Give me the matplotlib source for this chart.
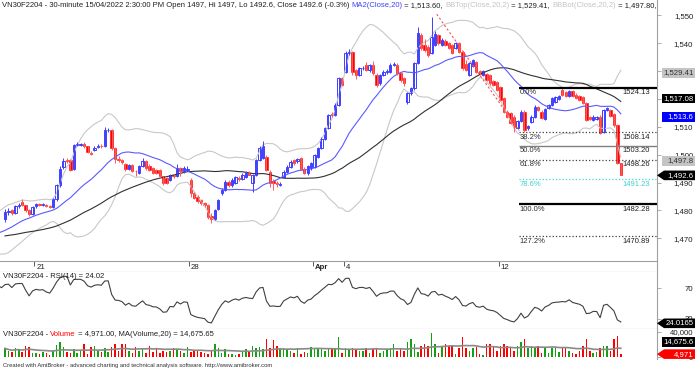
import matplotlib
matplotlib.use("Agg")
import matplotlib.pyplot as plt
from matplotlib.patches import Polygon
import numpy as np
import pandas as pd

plt.rcParams['font.family'] = ['Liberation Sans', 'DejaVu Sans']

# closes before the first visible bar, they only feed MA / BB / RSI
hist_close = [1470, 1471.5, 1472, 1470.5, 1469, 1468, 1469.5, 1471, 1472.5, 1471,
              1470, 1468.5, 1467, 1468, 1469.5, 1470, 1471, 1470.5, 1469, 1468,
              1467.5, 1468.5, 1470, 1471.5, 1470, 1469, 1468, 1467, 1468.5, 1469.5,
              1467.5, 1466.5, 1466, 1467, 1468.5, 1469, 1470.5, 1471, 1472, 1473.5,
              1474, 1475, 1474.5, 1476, 1477, 1476.5, 1477.5, 1478, 1477.5]

# 30-minute bars, 9 per session, 18/03 .. 15/04/2022
opens = [1477, 1479.5, 1480, 1479, 1481.5, 1483, 1481.8, 1480.2, 1478.6,
         1481.5, 1482.2, 1482, 1482, 1481.6, 1481.3, 1484, 1489, 1495.5,
         1498.2, 1498, 1495, 1503.5, 1503.6, 1503.8, 1503, 1500.8, 1501.8,
         1502.8, 1503.2, 1503, 1508.8, 1509, 1502.3, 1498.5, 1498, 1496.8,
         1494.8, 1496.2, 1494.2, 1493.6, 1495.8, 1497.6, 1496, 1495.2, 1494.5,
         1494.4, 1492.2, 1491.5, 1491, 1492.7, 1492.2, 1495.2, 1494, 1494.5,
         1491, 1486.3, 1485, 1483.6, 1482.6, 1482, 1478, 1477, 1480.6,
         1486.2, 1487.4, 1490.2, 1489.1, 1489.7, 1491.8, 1491.2, 1492, 1493.3,
         1489.7, 1492.7, 1498, 1499, 1499.3, 1493.9, 1490.5, 1490, 1489.3,
         1492, 1493.9, 1495.7, 1498, 1497.6, 1498.7, 1495, 1493.3, 1495.1,
         1495.7, 1499.3, 1502.3, 1505.8, 1509.5, 1514.6, 1514.3, 1517.9, 1527.4,
         1529.8, 1536.4, 1537, 1530.4, 1528.6, 1531, 1532.2, 1530.4, 1532.2,
         1528.8, 1525.6, 1528.6, 1529.6, 1529.8, 1532.2, 1532.2, 1529.2, 1527.4,
         1519.1, 1522, 1523.8, 1532.8, 1543, 1539.4, 1538.8, 1536.4, 1539.4,
         1543, 1539.4, 1541, 1540, 1539.4, 1538.2, 1540, 1536.8, 1532.5,
         1528.6, 1532, 1533.4, 1530, 1528.6, 1529, 1528.6, 1526.5, 1526.2,
         1524.4, 1520.2, 1515.5, 1514.9, 1513.7, 1509.5, 1512, 1515.5, 1509.5,
         1511.9, 1513.7, 1517, 1515.5, 1513, 1516.7, 1517.9, 1519, 1520,
         1523.2, 1522.6, 1521.2, 1522.8, 1521.6, 1521, 1520.8, 1518.5, 1513.5,
         1512.5, 1512.8, 1513.7, 1508.3, 1516, 1516, 1514.6, 1510.5, 1497]
highs = [1480.5, 1481, 1480.5, 1482, 1482.5, 1484, 1482, 1480.5, 1481.5,
         1482.8, 1482.5, 1482.5, 1482.3, 1482, 1484.5, 1489.5, 1496, 1499,
         1499, 1498.5, 1504, 1504.5, 1504.2, 1504.5, 1503.2, 1501.5, 1503,
         1503.8, 1503.8, 1510, 1509.5, 1509.3, 1502.8, 1499.5, 1498.4, 1497,
         1496.6, 1496.5, 1494.6, 1496.2, 1499, 1498, 1496.5, 1495.6, 1495,
         1494.8, 1492.5, 1492, 1493, 1493.2, 1496.5, 1495.5, 1495.8, 1496,
         1491.5, 1486.8, 1485.6, 1484, 1483, 1482.4, 1479, 1480.5, 1484,
         1488, 1491, 1491, 1491.5, 1492.5, 1492.2, 1493.4, 1494, 1494,
         1493.2, 1498.6, 1503, 1505, 1500, 1494.4, 1491.2, 1490.6, 1490.2,
         1494.4, 1496.2, 1498, 1498.5, 1498.8, 1499.2, 1495.5, 1496.4, 1497.3,
         1500.4, 1502.8, 1506.3, 1510, 1514.8, 1515.2, 1518.4, 1527.9, 1527.8,
         1537.3, 1538, 1537.4, 1530.9, 1531.5, 1531.8, 1533.4, 1532.7, 1533.6,
         1529.2, 1529.1, 1530.3, 1530.6, 1532.8, 1533.2, 1532.8, 1529.6, 1527.8,
         1522.5, 1524.2, 1533.2, 1546, 1543.6, 1541.5, 1539.4, 1549.5, 1544.5,
         1543.5, 1542, 1541.5, 1540.6, 1539.8, 1540.5, 1540.4, 1537.2, 1534,
         1533.2, 1534.5, 1533.8, 1530.5, 1530.5, 1529.5, 1529, 1527, 1526.6,
         1524.8, 1520.6, 1516, 1515.3, 1514.1, 1512.4, 1515.9, 1515.9, 1510.8,
         1514.1, 1517.7, 1517.4, 1515.9, 1516.9, 1518.3, 1520.6, 1521.2, 1521.6,
         1524, 1523, 1523.2, 1523.2, 1522, 1521.4, 1521.2, 1518.9, 1513.9,
         1514.1, 1514, 1514.1, 1516.4, 1517.2, 1516.4, 1515, 1511, 1497]
lows = [1476, 1478.5, 1478.5, 1478.8, 1481, 1481.5, 1479.5, 1478, 1478.2,
        1481, 1481.5, 1481.5, 1481.2, 1481, 1481, 1483.5, 1488.5, 1495,
        1497.2, 1494, 1494.5, 1503, 1503, 1502.5, 1500.5, 1499.8, 1501.5,
        1502.5, 1502.5, 1502.8, 1508, 1501.8, 1497, 1497.5, 1496.8, 1494,
        1494.4, 1493.8, 1492.5, 1493.2, 1495.5, 1494.6, 1494, 1493, 1493,
        1491.8, 1489, 1489.5, 1490.5, 1491.8, 1492, 1492.2, 1493.6, 1494,
        1485, 1484, 1482.8, 1482, 1481.4, 1476.8, 1475.5, 1476.6, 1480.2,
        1485.5, 1487, 1488.6, 1488.5, 1489.5, 1490.5, 1490.8, 1491.8, 1492.6,
        1486.7, 1492.3, 1497.6, 1498.6, 1494, 1488.6, 1487.5, 1488.5, 1488.8,
        1491.6, 1493.5, 1495.3, 1496.4, 1497.2, 1494.6, 1493, 1492.8, 1494.7,
        1495.3, 1499, 1502, 1505.4, 1509.2, 1513.6, 1514, 1517.5, 1524.5,
        1529.4, 1535.8, 1528.8, 1527.2, 1528.2, 1530.5, 1530, 1529.8, 1528.7,
        1524.4, 1525.2, 1528.2, 1529.1, 1529.4, 1531.7, 1528.8, 1526.2, 1524.6,
        1518.2, 1521.6, 1523.4, 1532.4, 1537.6, 1537, 1535.2, 1536, 1539,
        1539.5, 1539, 1539, 1537.8, 1536, 1537.8, 1536.6, 1530.5, 1530,
        1528.2, 1531.6, 1529.4, 1528.6, 1528.2, 1526.4, 1525.2, 1524.6, 1522.8,
        1519.2, 1515.1, 1513.3, 1510.9, 1508, 1509.1, 1511.6, 1508.3, 1509,
        1511.5, 1513.3, 1515.6, 1512.7, 1512.6, 1516.3, 1517.5, 1518.6, 1519.6,
        1521, 1520.8, 1520.8, 1520.6, 1520, 1519.4, 1518.1, 1512.1, 1512.3,
        1512.1, 1512.4, 1507.3, 1507.9, 1515.6, 1513.6, 1510, 1496.5, 1492.6]
closes = [1479.5, 1479.8, 1479, 1481.5, 1481.8, 1481.8, 1480.2, 1478.6, 1481.2,
          1482.2, 1482, 1482.2, 1481.6, 1481.3, 1484, 1489, 1495, 1497.8,
          1497.8, 1494.6, 1503.5, 1503.8, 1503.8, 1503, 1501, 1500.4, 1502.5,
          1503.2, 1503, 1508.8, 1509, 1502.3, 1498.5, 1498.2, 1497.4, 1494.8,
          1496.2, 1494.3, 1494, 1495.8, 1497.6, 1495.1, 1494.6, 1493.6, 1493.5,
          1492.2, 1489.8, 1490, 1492.7, 1492.4, 1495.2, 1494, 1495.2, 1495,
          1486.3, 1484.5, 1483.3, 1482.6, 1482, 1477.8, 1476.8, 1480, 1483.7,
          1487.4, 1490.3, 1489.2, 1491, 1492, 1491.2, 1492.7, 1493.3, 1492.9,
          1492.7, 1498, 1502.3, 1503, 1494.5, 1489.7, 1490, 1489.5, 1489.6,
          1493.9, 1495.7, 1497.5, 1496.9, 1498.3, 1495, 1493.5, 1496, 1496.9,
          1499.9, 1502.3, 1505.8, 1509.5, 1514.3, 1514.1, 1517.9, 1527.4, 1525,
          1536.4, 1537, 1529.8, 1528.6, 1531, 1531.2, 1530.4, 1532.2, 1529.2,
          1525.2, 1528.6, 1529.8, 1530, 1532.2, 1532.4, 1529.2, 1526.8, 1525.6,
          1522, 1523.8, 1532.8, 1543.6, 1538.2, 1537.6, 1535.8, 1542.4, 1543.4,
          1540, 1541.2, 1539.5, 1538.2, 1536.4, 1540, 1537, 1531, 1530.4,
          1532.8, 1534, 1529.8, 1529, 1530, 1526.8, 1525.6, 1525, 1523.2,
          1519.6, 1515.5, 1513.7, 1511.3, 1510, 1512, 1515.5, 1508.9, 1510.2,
          1513.7, 1517.3, 1516, 1513.1, 1516.5, 1517.9, 1520.2, 1520.8, 1521,
          1521.4, 1521.2, 1522.8, 1521, 1520.4, 1519.8, 1518.5, 1512.5, 1512.7,
          1513.7, 1513.6, 1507.7, 1516, 1516.8, 1514, 1510.5, 1497.2, 1492.6]
volume = [14000, 10500, 8400, 14000, 12600, 8400, 17500, 15400, 7000, 7000,
          5600, 8400, 7000, 3500, 10500, 19600, 24500, 15400, 8400, 7000,
          12600, 7000, 10500, 21000, 5600, 15400, 17500, 10500, 8400, 14000,
          8400, 15400, 21000, 10500, 21000, 21000, 10500, 7000, 15400, 10500,
          14000, 7000, 17500, 8400, 14000, 7000, 10500, 8400, 10500, 14000,
          12600, 10500, 7000, 15400, 8400, 10500, 10500, 8400, 7000, 5600,
          10500, 21000, 14000, 7000, 12600, 5600, 5600, 4200, 5600, 8400,
          12600, 8400, 17500, 14000, 15400, 12600, 28000, 14000, 26600, 17500,
          12600, 14000, 12600, 10500, 7000, 14000, 5600, 8400, 7000, 15400,
          12600, 14000, 12600, 10500,
          14000, 14000, 14000, 31500, 7000, 14000, 12600, 14000, 12600, 10500,
          10500, 14000, 7000, 12600, 14000, 7000, 10500, 12600, 14000, 21000,
          10500, 14000, 10500, 24500, 28000, 21000, 8400, 17500, 21000, 17500,
          37800,
          21000, 7000, 17500, 21000, 17500, 17500, 5600, 14000, 31500, 14000,
          10500, 14000, 15400, 5600, 3500, 21000, 21000, 17500, 10500, 17500,
          21000, 17500, 14000, 10500, 17500, 24500, 28000, 14000, 17500, 14000,
          17500, 7000, 14000, 7000, 14000, 14000, 8400, 14000, 14000, 10500,
          7000, 5600, 10500, 17500, 28000, 10500, 7000, 8400, 14000, 17500,
          17500, 10500, 28000, 33600, 4971]

date_ticks = [9, 54, 90, 99, 144]
date_labels = ['21', '28', 'Apr', '4', '12']

fib_start = (125.5, 1550.45)
fib_end = (149.5, 1508.6)
fib_pct = ['0.0%', '38.2%', '50.0%', '61.8%', '78.6%', '100.0%', '127.2%']
fib_levels = [1524.13, 1508.14, 1503.20, 1498.26, 1491.23, 1482.28, 1470.89]

# values shown in the header / axis tags
last_close = 1492.6
last_ma20 = 1513.60
last_bbtop = 1529.41
last_bbbot = 1497.80
last_ma50 = 1517.08
last_rsi = 24.0165
last_vol = 4971
last_vol_ma = 14675.65

BLUE = '#3f3fff'
RED = '#ff0000'
GREEN = '#13a113'
GRID = '#a0a0a0'
W, H = 700, 370
FS = 5.5

# ---- indicators
c_all = pd.Series(hist_close + closes, dtype=float)
x_all = np.arange(len(c_all)) - len(hist_close)
ma20 = c_all.rolling(20).mean()
sd20 = c_all.rolling(20).std(ddof=0)
bbtop = ma20 + 2 * sd20
bbbot = ma20 - 2 * sd20
ma50 = c_all.rolling(50).mean()
d = c_all.diff()
gain = d.clip(lower=0).ewm(alpha=1 / 14, adjust=False).mean()
loss = (-d.clip(upper=0)).ewm(alpha=1 / 14, adjust=False).mean()
rsi = 100 - 100 / (1 + gain / loss)

o = np.array(opens); h = np.array(highs); l = np.array(lows); c = np.array(closes)
v = np.array(volume)
x = np.arange(len(c))
vma = pd.Series(v, dtype=float).rolling(20, min_periods=1).mean()

fig = plt.figure(figsize=(7, 3.7), dpi=100)
aw = 657 / W


def rect(top, bot):
    return [0, 1 - bot / H, aw, (bot - top) / H]


ax = fig.add_axes(rect(0, 261))
axd = fig.add_axes(rect(261, 272.3))
axr = fig.add_axes(rect(272.3, 329.3))
axv = fig.add_axes(rect(329.3, 358.5))

xl = (-5 / 3.44, (657 - 5) / 3.44)
for a in (ax, axd, axr, axv):
    a.set_xlim(*xl)
    a.set_xticks([])
    for s in ('left', 'top', 'bottom'):
        a.spines[s].set_visible(False)
    a.spines['right'].set_color(GRID)
    a.spines['right'].set_linewidth(0.8)
    a.yaxis.tick_right()
    a.tick_params(axis='y', length=3, width=0.6, color=GRID, labelsize=5.6,
                  pad=23, labelcolor='#202020')

ax.set_ylim(1540 - (261 - 43.3) / 2.786, 1540 + 43.3 / 2.786)
ax.set_yticks(range(1470, 1551, 10))
ax.set_yticklabels([f'{t:,}' for t in range(1470, 1551, 10)])

# bands / averages
ax.plot(x_all, bbtop, color='#c8c8c8', lw=0.8)
ax.plot(x_all, bbbot, color='#c8c8c8', lw=0.8)
ax.plot(x_all, ma50, color='#303030', lw=0.8)
ax.plot(x_all, ma20, color='#5a5aff', lw=0.8)

# candles
up = c >= o
ax.vlines(x[up], l[up], h[up], color=BLUE, lw=0.7)
ax.vlines(x[~up], l[~up], h[~up], color='#ff5a5a', lw=0.7)
ax.bar(x[up], c[up] - o[up], bottom=o[up], width=0.7, facecolor='white',
       edgecolor=BLUE, lw=0.7)
ax.bar(x[~up], o[~up] - c[~up], bottom=c[~up], width=0.7, color=RED,
       edgecolor=RED, lw=0.4)

# fibonacci tool
ax.plot([fib_start[0], fib_end[0]], [fib_start[1], fib_end[1]], color='#ff5050',
        lw=0.8, ls=(0, (2, 2)))
fib_styles = [('#000000', '-', 1.6), ('#404040', ':', 0.9), ('#808080', '-', 1.0),
              ('#404040', ':', 0.9), ('#40d8d8', ':', 0.9), ('#000000', '-', 1.6),
              ('#404040', ':', 0.9)]
for pct, lev, (col, ls, lw) in zip(fib_pct, fib_levels, fib_styles):
    ax.hlines(lev, fib_end[0], xl[1], color=col, ls=ls, lw=lw)
    tc = '#40d0d0' if col == '#40d8d8' else '#303030'
    ax.annotate(pct, (fib_end[0], lev), xytext=(0, -1.2), textcoords='offset points',
                ha='left', va='top', fontsize=FS, color=tc)
    ax.annotate(f'{lev:.2f}', ((650 - 5) / 3.44, lev), xytext=(0, -1.2),
                textcoords='offset points', ha='right', va='top', fontsize=FS,
                color=tc if col == '#40d8d8' else '#202020')

# date strip
axd.set_yticks([])
axd.set_ylim(0, 1)
for s in ('top', 'bottom'):
    axd.spines[s].set_visible(True)
    axd.spines[s].set_color(GRID)
    axd.spines[s].set_linewidth(0.8)
for xi, lab in zip(date_ticks, date_labels):
    axd.vlines(xi - 0.5, 0.55, 1, color='#404040', lw=0.6)
    axd.text(xi + 0.1, 0.45, lab, fontsize=5.6, va='center', ha='left',
             color='#202020', fontweight='bold' if lab == 'Apr' else 'normal')

# rsi
axr.plot(x_all, rsi, color='#404040', lw=0.8)
axr.set_ylim(24.02 - 6 / 0.7613, 70 + 16 / 0.7613)
axr.set_yticks([30, 70])
axr.spines['bottom'].set_visible(True)
axr.spines['bottom'].set_color(GRID)
axr.spines['bottom'].set_linewidth(0.8)

# volume
vcol = np.where(up, GREEN, RED)
axv.bar(x, v, width=0.45, color=vcol)
axv.plot(x, vma, color='#8a8a8a', lw=1.2)
axv.set_ylim(-1875, 43750)
axv.set_yticks([0, 40000])
axv.set_yticklabels(['0', '40,000'])

for a in (ax, axr, axv):
    for t in a.get_yticklabels():
        t.set_ha('right')

rend = fig.canvas.get_renderer()


def line_of_text(x_px, y_px, parts, size, clip=None):
    xp = x_px
    for s, col in parts:
        t = fig.text(xp / W, 1 - y_px / H, s, color=col, fontsize=size,
                     ha='left', va='center')
        if clip is not None:
            t.set_clip_box(clip.bbox)
            t.set_clip_on(True)
        xp = t.get_window_extent(renderer=rend).x1


line_of_text(2, 5.2, [
    ('VN30F2204 - 30-minute 15/04/2022 2:30:00 PM Open 1497, Hi 1497, Lo 1492.6, '
     'Close 1492.6 (-0.3%) ', '#202020'),
    ('MA2(Close,20)', BLUE), (f' = {last_ma20:,.2f}, ', '#202020'),
    ('BBTop(Close,20,2)', '#c4c4c4'), (f' = {last_bbtop:,.2f}, ', '#202020'),
    ('BBBot(Close,20,2)', '#c4c4c4'), (f' = {last_bbbot:,.2f}, ', '#202020'),
    ('MA(Close,50)', '#303030'), (f' = {last_ma50:,.2f}', '#202020')],
    FS, clip=ax)
line_of_text(3, 276.7, [(f'VN30F2204 - RSI(14) = {last_rsi:.2f}', '#202020')], FS)
line_of_text(3, 334.2, [('VN30F2204 - ', '#202020'), ('Volume', RED),
                        (f' = {last_vol:,.2f}, MA(Volume,20) = {last_vol_ma:,.2f}',
                         '#202020')], FS)
fig.text(3 / W, 1 - 365.5 / H,
         'Created with AmiBroker - advanced charting and technical analysis '
         'software. http://www.amibroker.com', fontsize=4.2, color='#303030',
         ha='left', va='center')


def tag(axis, value, text, fc, tc, arrow=False, y_px=None):
    if y_px is None:
        yc = axis.transData.transform((0, value))[1]
    else:
        yc = H - y_px
    hh = 4.8
    if arrow:
        pts = [(657, yc), (664, yc + hh), (695, yc + hh), (695, yc - hh), (664, yc - hh)]
    else:
        pts = [(662, yc - hh), (662, yc + hh), (695, yc + hh), (695, yc - hh)]
    fig.add_artist(Polygon([(px / W, py / H) for px, py in pts], closed=True,
                           transform=fig.transFigure, facecolor=fc,
                           edgecolor='none', zorder=5))
    fig.text(693.5 / W, yc / H, text, color=tc, ha='right', va='center',
             fontsize=5.6, zorder=6)


tag(ax, last_bbtop, f'{last_bbtop:,.2f}', '#c4c4c4', '#303030')
tag(ax, last_ma50, f'{last_ma50:,.2f}', '#000000', 'white', y_px=98.3)
tag(ax, last_ma20, f'{last_ma20:,.1f}', '#0000ff', 'white')
tag(ax, last_bbbot, f'{last_bbbot:,.1f}', '#c4c4c4', '#303030')
tag(ax, last_close, f'{last_close:,.1f}', '#000000', 'white', arrow=True)
tag(axr, last_rsi, f'{last_rsi:.4f}', '#000000', 'white', arrow=True)
tag(axv, last_vol_ma, f'{last_vol_ma:,.1f}', '#000000', 'white', y_px=341.7)
tag(axv, last_vol, f'{last_vol:,}', RED, 'white', arrow=True)

fig.savefig('out.png', dpi=100)
